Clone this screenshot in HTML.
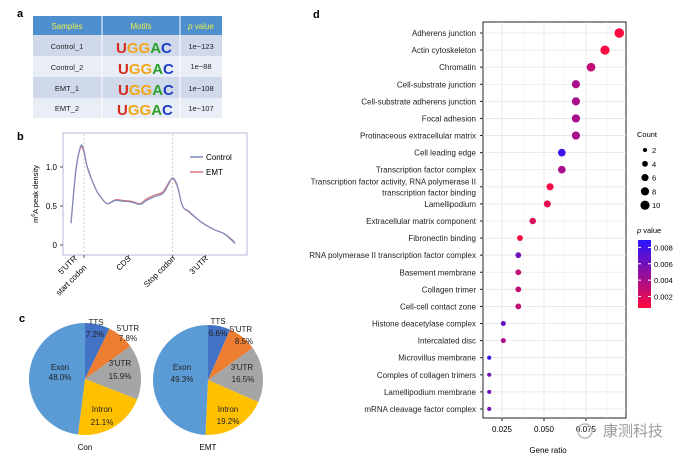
<!DOCTYPE html>
<html><head><meta charset="utf-8">
<style>
body{margin:0;background:#fff;}
svg{display:block;font-family:"Liberation Sans","Noto Sans CJK SC",sans-serif;}
</style></head>
<body>
<svg id="fig" width="692" height="461" viewBox="0 0 692 461" xmlns="http://www.w3.org/2000/svg">
<rect width="692" height="461" fill="#fff"/>
<text x="17" y="17" font-size="11" font-weight="bold">a</text>
<g id="tableA">
<rect x="33" y="16" width="189" height="19" fill="#4f8fcd"/>
<rect x="33" y="35" width="189" height="21" fill="#cfd9ea"/>
<rect x="33" y="56" width="189" height="21" fill="#e9eef6"/>
<rect x="33" y="77" width="189" height="21" fill="#cfd9ea"/>
<rect x="33" y="98" width="189" height="20" fill="#e9eef6"/>
<line x1="102" y1="16" x2="102" y2="118" stroke="#fff" stroke-width="1"/>
<line x1="180" y1="16" x2="180" y2="118" stroke="#fff" stroke-width="1"/>
<g font-size="8" fill="#e6f04a" text-anchor="middle">
<text x="67" y="29">Samples</text><text x="141" y="29">Motifs</text><text x="201" y="29"><tspan font-style="italic">p</tspan> value</text>
</g>
<g font-size="7.5" fill="#222" text-anchor="middle">
<text x="67" y="49">Control_1</text><text x="67" y="70">Control_2</text><text x="67" y="91">EMT_1</text><text x="67" y="111">EMT_2</text>
<text x="201" y="49">1e−123</text><text x="201" y="69">1e−88</text><text x="201" y="91">1e−108</text><text x="201" y="111">1e−107</text>
</g>
<g font-size="15" font-weight="bold" text-anchor="start">
<text x="116" y="53"><tspan fill="#d62a1e">U</tspan><tspan fill="#f2a71b">GG</tspan><tspan fill="#2ba02b">A</tspan><tspan fill="#1f3cc8">C</tspan></text>
<text x="118" y="74"><tspan fill="#d62a1e">U</tspan><tspan fill="#f2a71b">GG</tspan><tspan fill="#2ba02b">A</tspan><tspan fill="#1f3cc8">C</tspan></text>
<text x="118" y="95"><tspan fill="#d62a1e">U</tspan><tspan fill="#f2a71b">GG</tspan><tspan fill="#2ba02b">A</tspan><tspan fill="#1f3cc8">C</tspan></text>
<text x="117" y="115"><tspan fill="#d62a1e">U</tspan><tspan fill="#f2a71b">GG</tspan><tspan fill="#2ba02b">A</tspan><tspan fill="#1f3cc8">C</tspan></text>
</g>
</g>
<text x="17" y="140" font-size="11" font-weight="bold">b</text>
<g id="panelB"></g>
<text x="19" y="322" font-size="11" font-weight="bold">c</text>
<g id="panelC"></g>
<text x="313" y="18" font-size="11" font-weight="bold">d</text>
<g id="panelD"></g>
<text x="603" y="436" font-size="15" fill="#9a9a9a">康测科技</text>
<circle cx="585" cy="431" r="7" fill="none" stroke="#bbb" stroke-width="1.5"/>
</svg>
<script>
const NS="http://www.w3.org/2000/svg";
function mk(p,t,a,txt){const e=document.createElementNS(NS,t);for(const k in a)e.setAttribute(k,a[k]);if(txt!==undefined)e.textContent=txt;p.appendChild(e);return e;}

// ---- Panel b data ----
const bPos=[0,3,6,8,10,15,18,22,27,32,37,42,46,51,56,59,62,65,68,72,79,87,93,97,100];
const bControl=[0.28,0.95,1.27,1.2,1.0,0.72,0.62,0.53,0.57,0.56,0.55,0.52,0.57,0.62,0.66,0.76,0.86,0.75,0.5,0.43,0.30,0.2,0.15,0.08,0.02];
const bEMT=[0.28,0.97,1.25,1.18,0.99,0.72,0.62,0.53,0.58,0.57,0.56,0.53,0.59,0.64,0.68,0.78,0.85,0.74,0.5,0.42,0.30,0.2,0.15,0.09,0.03];
const bYTicks=[0,0.5,1.0];
const bYTickLabels=["0","0.5","1.0"];
const bXLabels=["5′UTR","start codon","CDS","Stop codon","3′UTR"];
const bXLabelPos=[2,8,35,62,82];

// ---- Panel c data ----
const pieCats=["TTS","5′UTR","3′UTR","Intron","Exon"];
const pieCon=[7.2,7.8,15.9,21.1,48.0];
const pieEMT=[6.6,8.5,16.5,19.2,49.3];
const pieTitles=["Con","EMT"];

// ---- Panel d data ----
const dTerms=["Adherens junction","Actin cytoskeleton","Chromatin","Cell-substrate junction","Cell-substrate adherens junction","Focal adhesion","Protinaceous extracellular matrix","Cell leading edge","Transcription factor complex","Transcription factor activity, RNA polymerase II|transcription factor binding","Lamellipodium","Extracellular matrix component","Fibronectin binding","RNA polymerase II transcription factor complex","Basement membrane","Collagen trimer","Cell-cell contact zone","Histone deacetylase complex","Intercalated disc","Microvillus membrane","Comples of collagen trimers","Lamellipodium membrane","mRNA cleavage factor complex"];
const dRatio=[0.0948,0.0863,0.0780,0.0690,0.0690,0.0690,0.0690,0.0606,0.0606,0.0536,0.0520,0.0433,0.0357,0.0347,0.0347,0.0347,0.0347,0.0258,0.0258,0.0174,0.0174,0.0174,0.0174];
const dCount=[11,10,9,8,8,8,8,7,7,6,6,5,4,4,4,4,4,3,3,2,2,2,2];
const dP=[0.0005,0.0008,0.003,0.004,0.004,0.004,0.004,0.008,0.004,0.001,0.0015,0.002,0.001,0.006,0.003,0.003,0.003,0.0065,0.004,0.0085,0.006,0.006,0.006];
const dXTicks=[0.025,0.050,0.075];
const dXTickLabels=["0.025","0.050","0.075"];
const countLegend=[2,4,6,8,10];
const pLegendTicks=[0.008,0.006,0.004,0.002];

// ===== Draw panel b =====
(function(){
const g=document.getElementById('panelB');
const x0=71,x1=235,y0=245,yk=78;
const sx=v=>x0+(x1-x0)*v/100, sy=v=>y0-yk*v;
const box=mk(g,'rect',{x:63,y:133,width:184,height:122,fill:'none',stroke:'#b4b4d8','stroke-width':1});

[8,62].forEach(p=>{const l=mk(g,'line',{x1:sx(p),x2:sx(p),y1:134,y2:254,stroke:'#bbb','stroke-dasharray':'2,2','stroke-width':0.7});
});
bYTicks.forEach((t,i)=>{mk(g,'line',{x1:60,x2:63,y1:sy(t),y2:sy(t),stroke:'#555'});
const tx=mk(g,'text',{x:57,y:sy(t)+3,'font-size':8,'text-anchor':'end'},bYTickLabels[i]);
});
const yt=mk(g,'text',{transform:'translate(38,194) rotate(-90)','font-size':7.5,'text-anchor':'middle'});
yt.innerHTML='m<tspan font-size="5" dy="-3">6</tspan><tspan dy="3">A peak density</tspan>';

bXLabels.forEach((s,i)=>{const x=sx(bXLabelPos[i]);const yy=i==1?268:259;
mk(g,'line',{x1:x,x2:x,y1:255,y2:258,stroke:'#555'});
const t=mk(g,'text',{transform:`translate(${x+3},${yy}) rotate(-45)`,'font-size':8,'text-anchor':'end'},s);
});
function path(vals,col,name){
const P=vals.map((v,i)=>[sx(bPos[i]),sy(v)]);
let d='M'+P[0][0].toFixed(1)+','+P[0][1].toFixed(1);
for(let i=0;i<P.length-1;i++){const p0=P[Math.max(0,i-1)],p1=P[i],p2=P[i+1],p3=P[Math.min(P.length-1,i+2)];
const c1=[p1[0]+(p2[0]-p0[0])/6,p1[1]+(p2[1]-p0[1])/6],c2=[p2[0]-(p3[0]-p1[0])/6,p2[1]-(p3[1]-p1[1])/6];
d+=`C${c1[0].toFixed(1)},${c1[1].toFixed(1)} ${c2[0].toFixed(1)},${c2[1].toFixed(1)} ${p2[0].toFixed(1)},${p2[1].toFixed(1)}`;}
const p=mk(g,'path',{d:d,fill:'none',stroke:col,'stroke-width':1.2,'stroke-linejoin':'round'});
}
path(bEMT,'#d9747c','line-emt');path(bControl,'#7b8bbf','line-control');
mk(g,'line',{x1:190,x2:203,y1:157,y2:157,stroke:'#7b8bbf','stroke-width':1.5});
mk(g,'line',{x1:190,x2:203,y1:172,y2:172,stroke:'#d9747c','stroke-width':1.5});
const l1=mk(g,'text',{x:206,y:160,'font-size':8},'Control');

const l2=mk(g,'text',{x:206,y:175,'font-size':8},'EMT');

})();

// ===== Draw panel c =====
(function(){
const g=document.getElementById('panelC');
const cols=["#4472c4","#ed7d31","#a5a5a5","#ffc000","#5b9bd5"];
const specs=[{cx:85,cy:379,r:56,vals:pieCon,lab:[[96,325,95,337],[128,331,128,341],[120,366,120,379],[102,412,102,425],[60,370,60,380]]},
{cx:208,cy:380,r:55,vals:pieEMT,lab:[[218,324,218,336],[241,332,244,344],[242,370,243,382],[228,412,228,424],[182,370,182,382]]}];
specs.forEach((s,k)=>{const tot=s.vals.reduce((a,b)=>a+b,0);let a=-Math.PI/2;
s.vals.forEach((v,i)=>{const b=a+v/tot*2*Math.PI;
const x1=s.cx+s.r*Math.cos(a),y1=s.cy+s.r*Math.sin(a),x2=s.cx+s.r*Math.cos(b),y2=s.cy+s.r*Math.sin(b);
const p=mk(g,'path',{d:`M${s.cx},${s.cy}L${x1.toFixed(2)},${y1.toFixed(2)}A${s.r},${s.r} 0 ${b-a>Math.PI?1:0} 1 ${x2.toFixed(2)},${y2.toFixed(2)}Z`,fill:cols[i]});
a=b;});
s.vals.forEach((v,i)=>{const L=s.lab[i];
const t=mk(g,'text',{x:L[0],y:L[1],'font-size':8,'text-anchor':'middle',fill:'#222'},pieCats[i]);

const t2=mk(g,'text',{x:L[2],y:L[3],'font-size':8,'text-anchor':'middle',fill:'#222'},v.toFixed(1)+'%');
});
const tt=mk(g,'text',{x:s.cx,y:450,'font-size':8,'text-anchor':'middle'},pieTitles[k]);
});
})();

// ===== Draw panel d =====
(function(){
const g=document.getElementById('panelD');
const L=483,R=626,T=22,B=418;
const sx=v=>502+(v-0.025)*1680;
const sy=i=>33+i*17.09;
const sr=c=>1.45*Math.sqrt(c);
function pcol(p){const t=Math.max(0,Math.min(1,(p-0.0006)/(0.0089-0.0006)));
const r=Math.round(255*(1-t)+40*t),gg=Math.round(10*(1-t)+20*t),b=Math.round(60*(1-t)+255*t);return `rgb(${r},${gg},${b})`;}
const fr=mk(g,'rect',{x:L,y:T,width:R-L,height:B-T,fill:'#fff',stroke:'#222','stroke-width':1});

[0.0125,0.0375,0.0625,0.0875].forEach(v=>mk(g,'line',{x1:sx(v),x2:sx(v),y1:T,y2:B,stroke:'#f0f0f0','stroke-width':0.5}));
dXTicks.forEach(v=>mk(g,'line',{x1:sx(v),x2:sx(v),y1:T,y2:B,stroke:'#e6e6e6','stroke-width':0.8}));
dTerms.forEach((s,i)=>{const y=sy(i);
mk(g,'line',{x1:L,x2:R,y1:y,y2:y,stroke:'#e6e6e6','stroke-width':0.8});
mk(g,'line',{x1:L-3,x2:L,y1:y,y2:y,stroke:'#222'});
const parts=s.split('|');
parts.forEach((ps,j)=>{const t=mk(g,'text',{x:476,y:y+3+(j-(parts.length-1)/2)*11,'font-size':8,'text-anchor':'end',fill:'#222'},ps);
});});
dRatio.forEach((v,i)=>{const c=mk(g,'circle',{cx:sx(v),cy:sy(i),r:sr(dCount[i]),fill:pcol(dP[i])});
});
dXTicks.forEach((v,i)=>{mk(g,'line',{x1:sx(v),x2:sx(v),y1:B,y2:B+3,stroke:'#222'});
const t=mk(g,'text',{x:sx(v),y:B+14,'font-size':8,'text-anchor':'middle'},dXTickLabels[i]);
});
const xt=mk(g,'text',{x:548,y:453,'font-size':8,'text-anchor':'middle'},'Gene ratio');

const ct=mk(g,'text',{x:637,y:137,'font-size':7.5},'Count');

countLegend.forEach((c,i)=>{const y=150+i*13.8;
const d=mk(g,'circle',{cx:645,cy:y,r:sr(c),fill:'#000'});

const t=mk(g,'text',{x:652,y:y+3,'font-size':7.5},String(c));
});
const pt=mk(g,'text',{x:637,y:233,'font-size':7.5});
pt.innerHTML='<tspan font-style="italic">p</tspan> value';

const defs=mk(g,'defs',{});const gr=mk(defs,'linearGradient',{id:'pg',x1:0,y1:0,x2:0,y2:1});
mk(gr,'stop',{offset:'0',  'stop-color':'rgb(40,20,255)'});mk(gr,'stop',{offset:'1','stop-color':'rgb(255,10,60)'});
const cb=mk(g,'rect',{x:638,y:240,width:13,height:68,fill:'url(#pg)'});

pLegendTicks.forEach(v=>{const y=240+(0.0089-v)/(0.0089-0.0006)*68;
mk(g,'line',{x1:638,x2:641,y1:y,y2:y,stroke:'#fff'});mk(g,'line',{x1:648,x2:651,y1:y,y2:y,stroke:'#fff'});
const t=mk(g,'text',{x:654,y:y+3,'font-size':7.5},v.toFixed(3));
});
})();
</script>
</body></html>
